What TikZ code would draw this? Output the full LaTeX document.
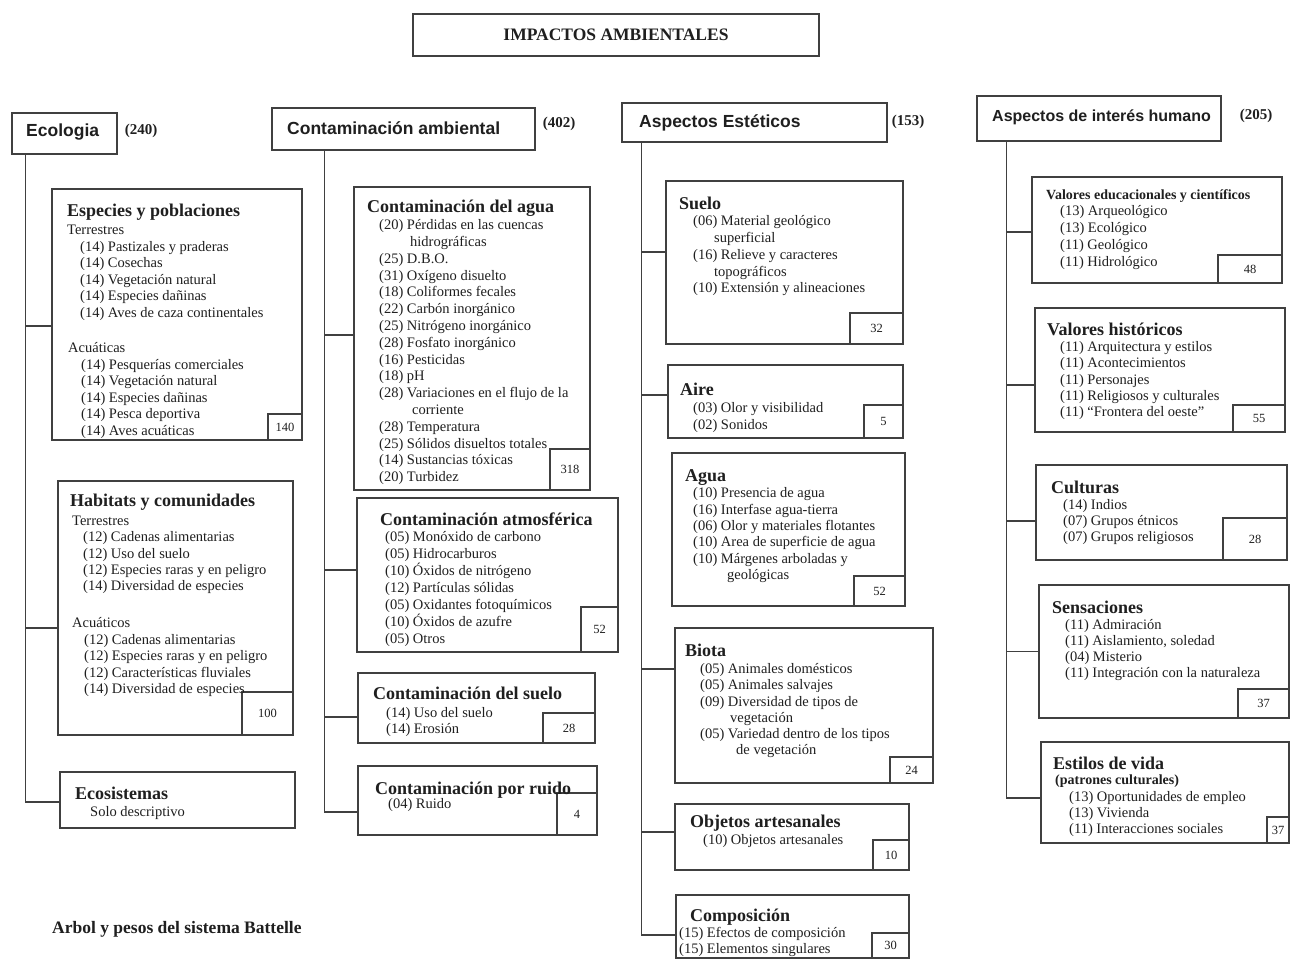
\documentclass[tikz,border=0pt]{standalone}
\usepackage{fontspec}
\setmainfont{Liberation Serif}
\newfontfamily\hdfont{Liberation Sans}
\usetikzlibrary{fit}
\definecolor{ink}{gray}{0.12}
\definecolor{rulec}{gray}{0.25}
\newcommand\ttl[1]{\rule{0pt}{13pt}{\fontsize{18}{17}\selectfont\bfseries #1}}
\newcommand\ttls[1]{\rule{0pt}{13pt}{\fontsize{14}{17}\selectfont\bfseries #1}}
\newcommand\ind[1]{\hspace*{#1pt}}
\newcommand\itf[1]{\fontsize{14.5}{#1}\selectfont}
\newcommand\bxw[8]{%
  \node[bx, fit={(#2,#3) (#4,#5)}] (#1) {};
  \node[bx, fit={(#6,#7) (#4,#5)}] (#1w) {};
  \node[wnum] (#1n) at (#1w.center) {#8};}
\tikzset{
  bx/.style={draw=rulec, line width=1.1pt, inner sep=0pt},
  wnum/.style={inner sep=0pt, text=ink, font=\fontsize{12.5}{14}\selectfont},
  txt/.style={anchor=north west, align=left, inner sep=0pt, text=ink},
  hdr/.style={anchor=west, inner sep=0pt, text=ink, font=\hdfont\bfseries\fontsize{17.5}{20}\selectfont},
  num/.style={inner sep=0pt, text=ink, font=\bfseries\fontsize{15}{18}\selectfont},
  br/.style={draw=rulec, line width=1.1pt},
}
\begin{document}
\begin{tikzpicture}[x=1pt,y=-1pt]
\useasboundingbox[fill=white] (0,0) rectangle (1299,960);

% top
\node[bx, fit={(413,14) (819,56)}] (imp) {};
\node[inner sep=0pt, text=ink, font=\bfseries\fontsize{17.5}{20}\selectfont] (impt) at (imp.center) {IMPACTOS AMBIENTALES};

% category headers
\node[bx, fit={(12,113) (117,154)}] (eco) {};
\node[hdr] (ecot) at (26,132) {Ecologia};
\node[num] (econ) at (141,131) {(240)};

\node[bx, fit={(272,108) (535,150)}] (ca) {};
\node[hdr] (cat) at (287,128) {Contaminación ambiental};
\node[num] (can) at (559,124) {(402)};

\node[bx, fit={(622,103) (887,142)}] (est) {};
\node[hdr] (estt) at (639,123) {Aspectos Estéticos};
\node[num] (estn) at (908,122) {(153)};

\node[bx, fit={(977,96) (1221,141)}] (hum) {};
\node[hdr, font=\hdfont\bfseries\fontsize{16}{19}\selectfont] (humt) at (992,117) {Aspectos de interés humano};
\node[num] (humn) at (1256,116) {(205)};

% ---------------- Ecologia
\bxw{esp}{52}{189}{302}{440}{268}{414}{140}
\node[txt, font=\itf{16.5}] (espt) at (67,203) {\ttl{Especies y poblaciones}\\[2pt]
Terrestres\\
\ind{13}(14) Pastizales y praderas\\
\ind{13}(14) Cosechas\\
\ind{13}(14) Vegetación natural\\
\ind{13}(14) Especies dañinas\\
\ind{13}(14) Aves de caza continentales\\[19pt]
\ind{1}Acuáticas\\
\ind{14}(14) Pesquerías comerciales\\
\ind{14}(14) Vegetación natural\\
\ind{14}(14) Especies dañinas\\
\ind{14}(14) Pesca deportiva\\
\ind{14}(14) Aves acuáticas};

\bxw{hab}{58}{481}{293}{735}{242}{692}{100}
\node[txt, font=\itf{16.4}] (habt) at (70,493) {\ttl{Habitats y comunidades}\\[2.6pt]
\ind{2}Terrestres\\
\ind{13}(12) Cadenas alimentarias\\
\ind{13}(12) Uso del suelo\\
\ind{13}(12) Especies raras y en peligro\\
\ind{13}(14) Diversidad de especies\\[20.6pt]
\ind{2}Acuáticos\\
\ind{14}(12) Cadenas alimentarias\\
\ind{14}(12) Especies raras y en peligro\\
\ind{14}(12) Características fluviales\\
\ind{14}(14) Diversidad de especies};

\node[bx, fit={(60,772) (295,828)}] (ecs) {};
\node[txt, font=\itf{17}] (ecst) at (75,786) {\ttl{Ecosistemas}\\
\ind{15}Solo descriptivo};

\draw[br] ([xshift=14pt]eco.south west) |- ([yshift=-11.5pt]esp.west);
\draw[br] ([xshift=14pt]eco.south west) |- ([yshift=-20pt]hab.west);
\draw[br] ([xshift=14pt]eco.south west) |- ([yshift=-2pt]ecs.west);

% ---------------- Contaminacion
\bxw{agu}{354}{187}{590}{490}{550}{449}{318}
\node[txt, font=\itf{16.8}] (agut) at (367,199) {\ttl{Contaminación del agua}\\[0.7pt]
\ind{12}(20) Pérdidas en las cuencas\\
\ind{43}hidrográficas\\
\ind{12}(25) D.B.O.\\
\ind{12}(31) Oxígeno disuelto\\
\ind{12}(18) Coliformes fecales\\
\ind{12}(22) Carbón inorgánico\\
\ind{12}(25) Nitrógeno inorgánico\\
\ind{12}(28) Fosfato inorgánico\\
\ind{12}(16) Pesticidas\\
\ind{12}(18) pH\\
\ind{12}(28) Variaciones en el flujo de la\\
\ind{45}corriente\\
\ind{12}(28) Temperatura\\
\ind{12}(25) Sólidos disueltos totales\\
\ind{12}(14) Sustancias tóxicas\\
\ind{12}(20) Turbidez};

\bxw{atm}{357}{498}{618}{652}{581}{607}{52}
\node[txt, font=\itf{17}] (atmt) at (380,512) {\ttl{Contaminación atmosférica}\\[-0.5pt]
\ind{5}(05) Monóxido de carbono\\
\ind{5}(05) Hidrocarburos\\
\ind{5}(10) Óxidos de nitrógeno\\
\ind{5}(12) Partículas sólidas\\
\ind{5}(05) Oxidantes fotoquímicos\\
\ind{5}(10) Óxidos de azufre\\
\ind{5}(05) Otros};

\bxw{sue}{358}{673}{595}{743}{543}{713}{28}
\node[txt, font=\itf{16}] (suet) at (373,686) {\ttl{Contaminación del suelo}\\[2.5pt]
\ind{13}(14) Uso del suelo\\
\ind{13}(14) Erosión};

\bxw{rui}{358}{766}{597}{835}{557}{793}{4}
\node[txt, font=\itf{14.5}] (ruit) at (375,781) {\ttl{Contaminación por ruido}\\
\ind{13}(04) Ruido};

\draw[br] ([xshift=53pt]ca.south west) |- ([yshift=3.5pt]agu.west);
\draw[br] ([xshift=53pt]ca.south west) |- ([yshift=5pt]atm.west);
\draw[br] ([xshift=53pt]ca.south west) |- ([yshift=-9pt]sue.west);
\draw[br] ([xshift=53pt]ca.south west) |- ([yshift=-11.5pt]rui.west);

% ---------------- Esteticos
\bxw{esu}{666}{181}{903}{344}{850}{313}{32}
\node[txt, font=\itf{16.75}] (esut) at (679,196) {\ttl{Suelo}\\
\ind{14}(06) Material geológico\\
\ind{35}superficial\\
\ind{14}(16) Relieve y caracteres\\
\ind{35}topográficos\\
\ind{14}(10) Extensión y alineaciones};

\bxw{air}{668}{365}{903}{438}{864}{405}{5}
\node[txt, font=\itf{16.5}] (airt) at (680,382) {\ttl{Aire}\\[1pt]
\ind{13}(03) Olor y visibilidad\\
\ind{13}(02) Sonidos};

\bxw{eag}{672}{453}{905}{606}{854}{576}{52}
\node[txt, font=\itf{16.4}] (eagt) at (685,468) {\ttl{Agua}\\
\ind{8}(10) Presencia de agua\\
\ind{8}(16) Interfase agua-tierra\\
\ind{8}(06) Olor y materiales flotantes\\
\ind{8}(10) Area de superficie de agua\\
\ind{8}(10) Márgenes arboladas y\\
\ind{42}geológicas};

\bxw{bio}{675}{628}{933}{783}{890}{757}{24}
\node[txt, font=\itf{16.2}] (biot) at (685,643) {\ttl{Biota}\\[1.3pt]
\ind{15}(05) Animales domésticos\\
\ind{15}(05) Animales salvajes\\
\ind{15}(09) Diversidad de tipos de\\
\ind{45}vegetación\\
\ind{15}(05) Variedad dentro de los tipos\\
\ind{51}de vegetación};

\bxw{obj}{675}{804}{909}{870}{873}{840}{10}
\node[txt, font=\itf{17}] (objt) at (690,814) {\ttl{Objetos artesanales}\\
\ind{13}(10) Objetos artesanales};

\bxw{com}{676}{895}{909}{958}{872}{933}{30}
\node[txt, font=\itf{16.5}] (comt) at (679,908) {\ind{11}\ttl{Composición}\\[-0.5pt]
(15) Efectos de composición\\
(15) Elementos singulares};

\draw[br] ([xshift=20pt]est.south west) |- ([yshift=10.5pt]esu.west);
\draw[br] ([xshift=20pt]est.south west) |- ([yshift=6.5pt]air.west);
\draw[br] ([xshift=20pt]est.south west) |- ([yshift=36.5pt]bio.west);
\draw[br] ([xshift=20pt]est.south west) |- ([yshift=5pt]obj.west);
\draw[br] ([xshift=20pt]est.south west) |- ([yshift=-8.5pt]com.west);

% ---------------- Interes humano
\bxw{ved}{1032}{177}{1282}{283}{1218}{255}{48}
\node[txt, font=\itf{16.8}] (vedt) at (1046,186) {\ttls{Valores educacionales y científicos}\\[-0.3pt]
\ind{14}(13) Arqueológico\\
\ind{14}(13) Ecológico\\
\ind{14}(11) Geológico\\
\ind{14}(11) Hidrológico};

\bxw{vhi}{1035}{308}{1285}{432}{1233}{405}{55}
\node[txt, font=\itf{16.25}] (vhit) at (1047,322) {\ttl{Valores históricos}\\[0.25pt]
\ind{13}(11) Arquitectura y estilos\\
\ind{13}(11) Acontecimientos\\
\ind{13}(11) Personajes\\
\ind{13}(11) Religiosos y culturales\\
\ind{13}(11) “Frontera del oeste”};

\bxw{cul}{1036}{465}{1287}{560}{1223}{518}{28}
\node[txt, font=\itf{16}] (cult) at (1051,480) {\ttl{Culturas}\\[0.5pt]
\ind{12}(14) Indios\\
\ind{12}(07) Grupos étnicos\\
\ind{12}(07) Grupos religiosos};

\bxw{sen}{1039}{585}{1289}{718}{1238}{689}{37}
\node[txt, font=\itf{16}] (sent) at (1052,600) {\ttl{Sensaciones}\\[0.5pt]
\ind{13}(11) Admiración\\
\ind{13}(11) Aislamiento, soledad\\
\ind{13}(04) Misterio\\
\ind{13}(11) Integración con la naturaleza};

\bxw{vid}{1041}{742}{1289}{843}{1267}{817}{37}
\node[txt, font=\itf{15.7}] (vidt) at (1053,756) {\ttl{Estilos de vida}\\
\ind{2}{\fontsize{14}{15.7}\selectfont\bfseries (patrones culturales)}\\[1.3pt]
\ind{16}(13) Oportunidades de empleo\\
\ind{16}(13) Vivienda\\
\ind{16}(11) Interacciones sociales};

\draw[br] ([xshift=30pt]hum.south west) |- ([yshift=-2pt]ved.west);
\draw[br] ([xshift=30pt]hum.south west) |- ([yshift=-15pt]vhi.west);
\draw[br] ([xshift=30pt]hum.south west) |- ([yshift=-8.5pt]cul.west);
\draw[br] ([xshift=30pt]hum.south west) |- (sen.west);
\draw[br] ([xshift=30pt]hum.south west) |- ([yshift=-5.5pt]vid.west);

% caption
\node[anchor=base west, inner sep=0pt, text=ink, font=\bfseries\fontsize{17.5}{20}\selectfont] (cap) at (52,933) {Arbol y pesos del sistema Battelle};
\end{tikzpicture}
\end{document}
